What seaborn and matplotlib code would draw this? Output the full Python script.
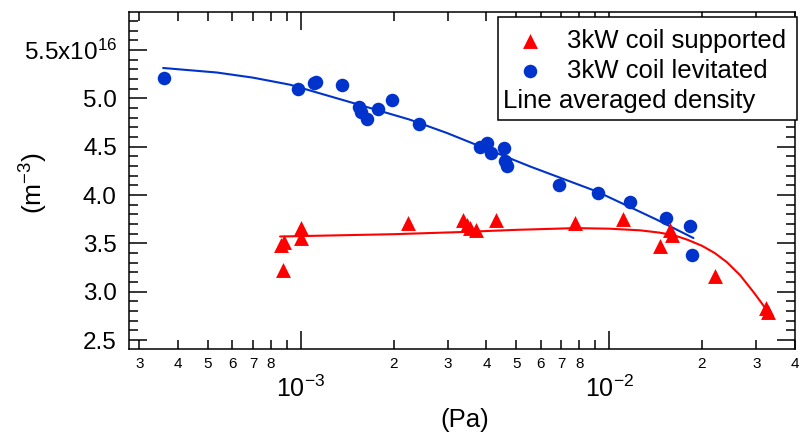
import numpy as np
import seaborn as sns
import matplotlib.pyplot as plt
from matplotlib.ticker import FixedLocator, FuncFormatter, MultipleLocator
from matplotlib.patches import Rectangle

# 3kW coil supported: pressure (Pa) and line averaged density (1e16 m^-3)
sup_p = [8.6e-4, 8.8e-4, 8.78e-4, 1.0e-3, 1.0e-3, 2.23e-3, 3.35e-3, 3.45e-3,
         3.54e-3, 3.70e-3, 4.29e-3, 7.76e-3, 1.107e-2, 1.463e-2, 1.58e-2,
         1.60e-2, 2.21e-2, 3.22e-2, 3.27e-2]
sup_n = [3.48, 3.51, 3.22, 3.655, 3.555, 3.71, 3.74, 3.69,
         3.66, 3.64, 3.745, 3.71, 3.75, 3.47, 3.64,
         3.59, 3.16, 2.83, 2.79]

# 3kW coil levitated
lev_p = [3.60e-4, 0.98e-3, 1.10e-3, 1.12e-3, 1.36e-3, 1.55e-3, 1.57e-3,
         1.64e-3, 1.777e-3, 1.973e-3, 2.41e-3, 3.82e-3, 4.03e-3, 4.13e-3,
         4.56e-3, 4.60e-3, 4.68e-3, 6.90e-3, 9.23e-3, 1.17e-2, 1.527e-2,
         1.83e-2, 1.862e-2]
lev_n = [5.21, 5.10, 5.155, 5.175, 5.14, 4.91, 4.86,
         4.79, 4.89, 4.98, 4.74, 4.50, 4.535, 4.44,
         4.49, 4.35, 4.30, 4.105, 4.025, 3.925, 3.76,
         3.68, 3.38]

# fitted curves
sup_fit_p = [8.57e-4, 2.0e-3, 3.29e-3, 5.0e-3, 7.8e-3, 1.0e-2, 1.26e-2,
             1.45e-2, 1.62e-2, 1.8e-2, 2.0e-2, 2.2e-2, 2.41e-2, 2.66e-2,
             2.94e-2, 3.21e-2, 3.33e-2]
sup_fit_n = [3.571, 3.595, 3.617, 3.64, 3.658, 3.652, 3.635,
             3.612, 3.585, 3.536, 3.475, 3.40, 3.305, 3.17,
             2.995, 2.83, 2.755]
lev_fit_p = [3.58e-4, 5.35e-4, 7.0e-4, 9.23e-4, 1.445e-3, 2.26e-3, 2.98e-3,
             5.54e-3, 9.12e-3, 1.43e-2, 1.877e-2]
lev_fit_n = [5.315, 5.268, 5.215, 5.142, 4.962, 4.78, 4.642,
             4.296, 4.037, 3.744, 3.555]

RED = "#ff0000"
BLUE = "#0033cc"

sns.set_style("white")
plt.rcParams["font.family"] = ["Liberation Sans", "DejaVu Sans"]
plt.rcParams["mathtext.fontset"] = "custom"
plt.rcParams["mathtext.rm"] = "Liberation Sans"
plt.rcParams["mathtext.it"] = "Liberation Sans:italic"
plt.rcParams["mathtext.bf"] = "Liberation Sans:bold"
for key in ("text.color", "axes.labelcolor", "xtick.color", "ytick.color"):
    plt.rcParams[key] = "black"

fig = plt.figure(figsize=(8, 4.33), dpi=100)
ax = fig.add_axes([0.161, 0.194, 0.8325, 0.778])

sns.lineplot(x=lev_fit_p, y=lev_fit_n, color=BLUE, linewidth=1.5, ax=ax, zorder=2)
sns.lineplot(x=sup_fit_p, y=sup_fit_n, color=RED, linewidth=1.5, ax=ax, zorder=2)
sns.scatterplot(x=sup_p, y=sup_n, marker="^", s=115, color=RED, linewidth=0,
                ax=ax, zorder=3, label="3kW coil supported")
sns.scatterplot(x=lev_p, y=lev_n, marker="o", s=95, color=BLUE, linewidth=0,
                ax=ax, zorder=3, label="3kW coil levitated")

ax.set_xscale("log")
ax.set_xlim(2.77e-4, 4.0e-2)
ax.set_ylim(2.407, 5.893)

# x ticks: decades as 10^n, minor digits 2..8
ax.xaxis.set_major_locator(FixedLocator([1e-4, 1e-3, 1e-2, 1e-1]))
minor_pos = [m * 10.0 ** e for e in (-4, -3, -2) for m in range(2, 10)]
ax.xaxis.set_minor_locator(FixedLocator(minor_pos))


def major_fmt(x, pos):
    return r"$10^{%d}$" % int(round(np.log10(x)))


def minor_fmt(x, pos):
    m = int(round(x / 10.0 ** np.floor(np.log10(x) + 1e-9)))
    return str(m) if 2 <= m <= 8 else ""


ax.xaxis.set_major_formatter(FuncFormatter(major_fmt))
ax.xaxis.set_minor_formatter(FuncFormatter(minor_fmt))

# y ticks
ax.yaxis.set_major_locator(MultipleLocator(0.5))
ax.yaxis.set_minor_locator(MultipleLocator(0.1))


def y_fmt(y, pos):
    if abs(y - 5.5) < 1e-6:
        return r"5.5x10$^{16}$"
    return f"{y:.1f}"


ax.yaxis.set_major_formatter(FuncFormatter(y_fmt))

for s in ax.spines.values():
    s.set_linewidth(1.1)
    s.set_color("black")

ax.tick_params(which="both", direction="in", top=True, right=True,
               bottom=True, left=True, width=1.1, color="black",
               labelcolor="black")
ax.tick_params(which="major", length=13)
ax.tick_params(which="minor", length=6.5)
ax.tick_params(axis="y", which="major", labelsize=17.5, pad=8.6)
ax.tick_params(axis="x", which="major", labelsize=18, pad=19)
ax.tick_params(axis="x", which="minor", labelsize=11, pad=6)

ax.set_xlabel("(Pa)", fontsize=18.5, color="black")
ax.xaxis.set_label_coords(0.5045, -0.175)
ax.set_ylabel(r"(m$^{-3}$)", fontsize=19, color="black")
ax.yaxis.set_label_coords(-0.1185, 0.493)

# legend: frame drawn separately so the third line can sit without a marker
ax.add_patch(Rectangle((0.554, 0.6795), 0.449, 0.3055, transform=ax.transAxes,
                       facecolor="white", edgecolor="black", linewidth=1.1,
                       clip_on=False, zorder=5))
leg = ax.legend(loc="upper left", bbox_to_anchor=(0.5826, 0.951), frameon=False,
                fontsize=18.5, handlelength=1.0, handletextpad=0.94,
                labelspacing=0.25, borderpad=0, borderaxespad=0)
leg.set_zorder(6)
ax.text(0.5616, 0.714, "Line averaged density", transform=ax.transAxes,
        fontsize=18.5, ha="left", va="baseline", zorder=6)

fig.savefig("out.png", dpi=100)
